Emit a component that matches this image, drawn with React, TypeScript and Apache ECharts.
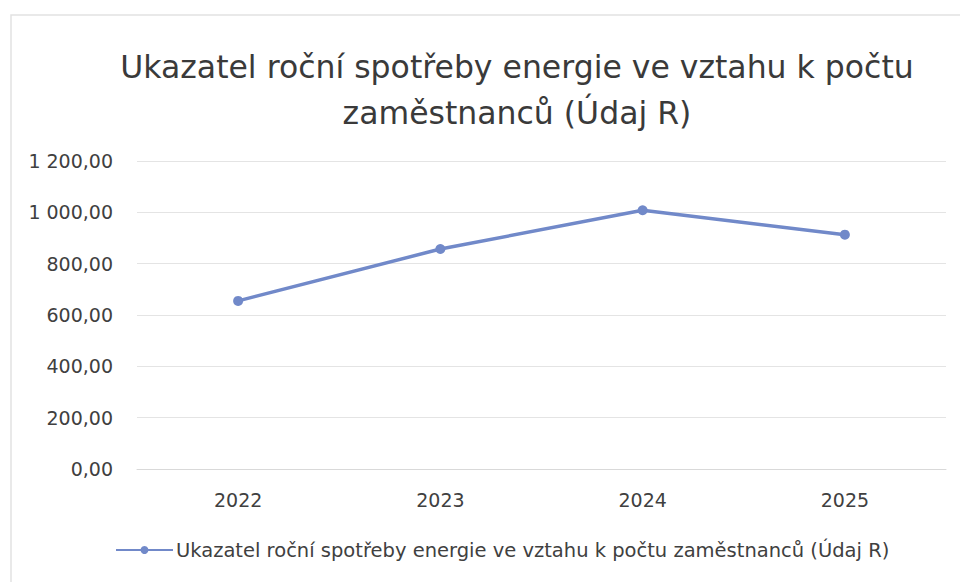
import React, { useEffect, useRef } from "react";
import * as echarts from "echarts";

const titleText = "Ukazatel roční spotřeby energie ve vztahu k počtu\nzaměstnanců (Údaj R)";
const seriesName = "Ukazatel roční spotřeby energie ve vztahu k počtu zaměstnanců (Údaj R)";
const categories = ["2022", "2023", "2024", "2025"];
const values = [655, 857, 1008, 913];
const yMin = 0;
const yMax = 1200;
const yInterval = 200;

function fmt(v: number): string {
  const fixed = v.toFixed(2);
  const [intPart, dec] = fixed.split(".");
  const withSpaces = intPart.replace(/\B(?=(\d{3})+(?!\d))/g, " ");
  return withSpaces + "," + dec;
}

export default function App() {
  const ref = useRef<HTMLDivElement>(null);
  useEffect(() => {
    if (!ref.current) return;
    const chart = echarts.init(ref.current, null, { renderer: "svg" });
    const font = "'DejaVu Sans', sans-serif";
    const lineColor = "#7189c9";
    chart.setOption({
      animation: false,
      backgroundColor: "#ffffff",
      graphic: [
        {
          type: "rect",
          shape: { x: 11, y: 15, width: 960, height: 600 },
          style: { fill: "none", stroke: "#e2e2e2", lineWidth: 1.5 },
          silent: true,
        },
      ],
      title: {
        text: titleText,
        left: 512,
        textAlign: "center",
        top: 39,
        textStyle: {
          fontFamily: font,
          fontSize: 31.5,
          fontWeight: "normal",
          color: "#3a3a3a",
          lineHeight: 46,
        },
      },
      grid: { left: 137, right: 14, top: 161, bottom: 113, containLabel: false },
      xAxis: {
        type: "category",
        data: categories,
        boundaryGap: true,
        axisLine: { show: true, lineStyle: { color: "#d9d9d9", width: 1 } },
        axisTick: { show: false },
        axisLabel: { fontFamily: font, fontSize: 19, color: "#404040", margin: 21 },
      },
      yAxis: {
        type: "value",
        min: yMin,
        max: yMax,
        interval: yInterval,
        axisLine: { show: false },
        axisTick: { show: false },
        splitLine: { lineStyle: { color: "#e4e4e4", width: 1 } },
        axisLabel: {
          fontFamily: font,
          fontSize: 19,
          color: "#404040",
          margin: 24,
          formatter: (v: number) => fmt(v),
        },
      },
      legend: {
        bottom: 17,
        left: 110,
        itemWidth: 57,
        itemHeight: 10,
        itemGap: 4,
        textStyle: { fontFamily: font, fontSize: 19.5, color: "#404040", padding: [0, 0, 0, -2] },
        data: [{ name: seriesName }],
      },
      series: [
        {
          name: seriesName,
          type: "line",
          data: values,
          symbol: "circle",
          symbolSize: 10,
          lineStyle: { color: lineColor, width: 3.5 },
          itemStyle: { color: lineColor },
        },
      ],
    });
    return () => chart.dispose();
  }, []);
  return (
    <div
      ref={ref}
      style={{ position: "fixed", left: 0, top: 0, width: 960, height: 582 }}
    />
  );
}
